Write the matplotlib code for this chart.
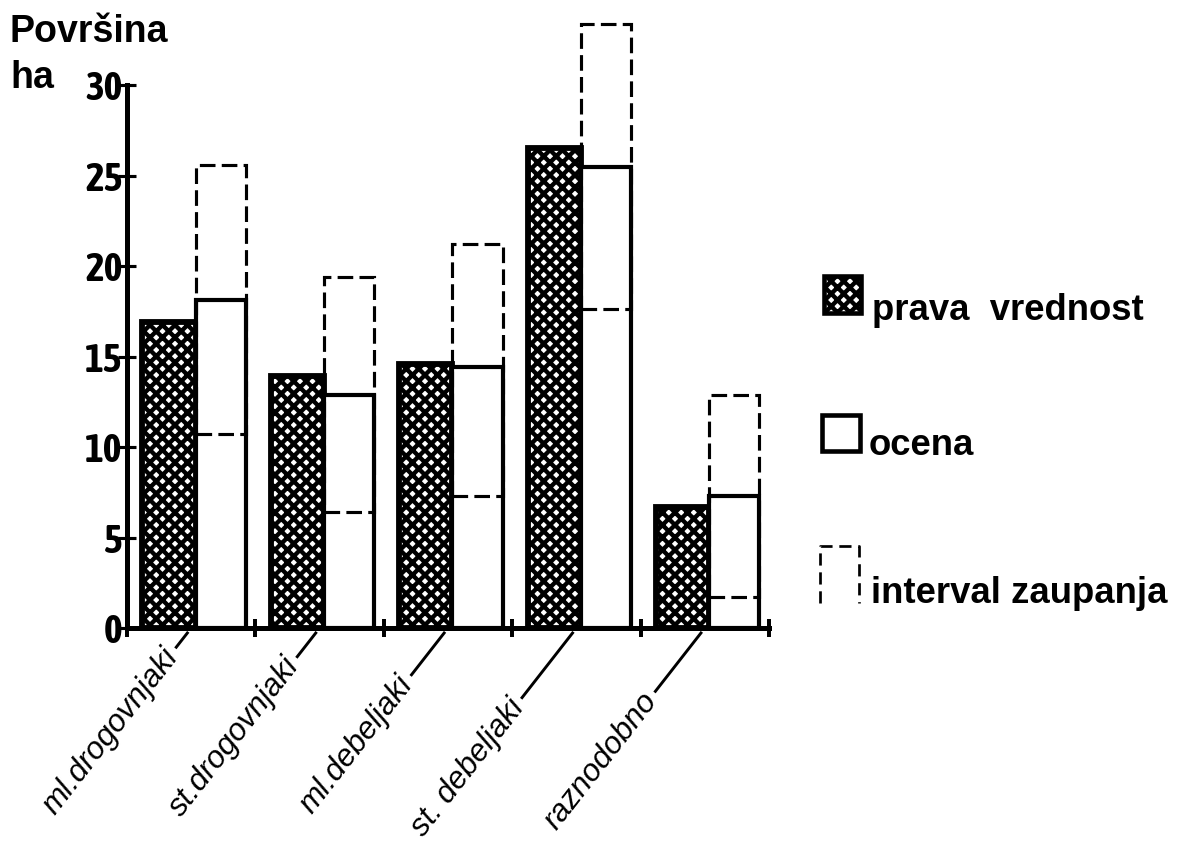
import numpy as np
import matplotlib
matplotlib.use("Agg")
import matplotlib.pyplot as plt
from matplotlib import font_manager
from matplotlib.patches import Rectangle
from matplotlib.lines import Line2D

# podatki (povrsina v ha)
kategorije = ["ml.drogovnjaki", "st.drogovnjaki", "ml.debeljaki", "st. debeljaki", "raznodobno"]
prava_vrednost = [16.9, 13.9, 14.6, 26.5, 6.7]
ocena = [18.1, 12.9, 14.4, 25.5, 7.3]
spodnja_meja = [10.7, 6.4, 7.3, 17.6, 1.7]
zgornja_meja = [25.6, 19.4, 21.2, 33.4, 12.9]
y_oznake = [0, 5, 10, 15, 20, 25, 30]
legenda = ["prava  vrednost", "ocena", "interval zaupanja"]

DPI = 150
W, H = 1183, 841
plt.rcParams['hatch.linewidth'] = 2.1
PISAVA = ['Liberation Sans', 'DejaVu Sans']


def krepka(f):
    w = f.weight
    return w in ('bold', 'heavy', 'black', 'extra bold') or (isinstance(w, int) and w >= 600)


# ozka krepka pokoncna pisava za stevilke na osi, ce je na voljo
ozke = [f for f in font_manager.fontManager.ttflist
        if ('Narrow' in f.name or 'Cond' in f.name or f.stretch in ('condensed', 'semi-condensed'))]
ozke_krepke = sorted({f.name for f in ozke if krepka(f) and f.style == 'normal'})
OZKA = ozke_krepke[:1] + ['Liberation Sans', 'DejaVu Sans']

fig = plt.figure(figsize=(W / DPI, H / DPI), dpi=DPI)
fig.patch.set_facecolor('white')

# glavna os: x od 127 do 769 px, y=0 pri 628 px
ax = fig.add_axes([127 / W, 1 - 628 / H, 642 / W, 628 / H])
ax.set_xlim(0, 5)
ax.set_ylim(0, 34.7)

n = len(kategorije)
x_prava = np.arange(n) + 0.12
x_ocena = np.arange(n) + 0.535
s_prava = 0.415
s_ocena = 0.39

ax.bar(x_prava, prava_vrednost, width=s_prava, align='edge', facecolor='white',
       edgecolor='black', hatch='xxxx', linewidth=2.8, zorder=3)
ax.bar(x_ocena, ocena, width=s_ocena, align='edge', facecolor='white',
       edgecolor='black', linewidth=2.0, zorder=3)
for xi, lo, hi in zip(x_ocena, spodnja_meja, zgornja_meja):
    ax.add_patch(Rectangle((xi, lo), s_ocena, hi - lo, fill=False, edgecolor='black',
                           linewidth=1.5, linestyle=(0, (5.0, 2.0)), zorder=4))

for s in ['top', 'right']:
    ax.spines[s].set_visible(False)
ax.spines['left'].set_bounds(0, 30)
ax.spines['left'].set_linewidth(2.4)
ax.spines['bottom'].set_linewidth(2.4)
ax.spines['bottom'].set_zorder(5)

ax.set_xticks(range(n + 1))
ax.set_xticklabels([])
ax.tick_params(axis='x', direction='inout', length=8.5, width=1.9)
ax.set_yticks(y_oznake)
ax.set_yticklabels([str(v) for v in y_oznake], fontsize=19, fontweight='bold',
                   family=OZKA, fontstretch='condensed')
ax.tick_params(axis='y', direction='inout', length=8.5, width=1.5, pad=-2)
ax.patch.set_alpha(0)

# prekrivna os v pikslih (y navzdol) za napise, legendo in vodilne crte
ov = fig.add_axes([0, 0, 1, 1], zorder=10)
ov.set_xlim(0, W)
ov.set_ylim(H, 0)
ov.axis('off')
ov.patch.set_alpha(0)

ov.text(10, 42, "Površina", fontsize=18, fontweight='bold', family=PISAVA, va='baseline')
ov.text(10, 88, "ha", fontsize=18, fontweight='bold', family=PISAVA, va='baseline')

# oznake kategorij s crtami
kot = 52
dolzine = [18, 30, 53, 82, 74]
smer = np.array([-np.cos(np.radians(kot)), np.sin(np.radians(kot))])
for i, (ime, L) in enumerate(zip(kategorije, dolzine)):
    p = ax.transData.transform((i + 0.47, 0))
    p = ov.transData.inverted().transform(p)
    z = p + np.array([0, 5])
    k = z + smer * L
    ov.add_line(Line2D([z[0], k[0]], [z[1], k[1]], color='black', linewidth=1.4))
    t = k + smer * 6
    ov.text(t[0], t[1], ime, fontsize=15, style='italic', family=PISAVA,
            rotation=kot, rotation_mode='anchor', ha='right', va='center')

# legenda
ov.add_patch(Rectangle((824, 276), 37, 37, facecolor='white', edgecolor='black',
                       hatch='xxxx', linewidth=2.2))
ov.add_patch(Rectangle((822, 415), 38, 36, facecolor='white', edgecolor='black',
                       linewidth=2.2))
ov.add_line(Line2D([820, 820, 859, 859], [603, 546, 546, 603], color='black',
                   linewidth=1.3, linestyle=(0, (4.5, 2.5))))
for ime, yb, xt in zip(legenda, [320, 455, 603], [872, 869, 871]):
    ov.text(xt, yb, ime, fontsize=17.5, fontweight='bold', family=PISAVA, va='baseline')

fig.savefig("out.png", dpi=DPI, facecolor='white')
